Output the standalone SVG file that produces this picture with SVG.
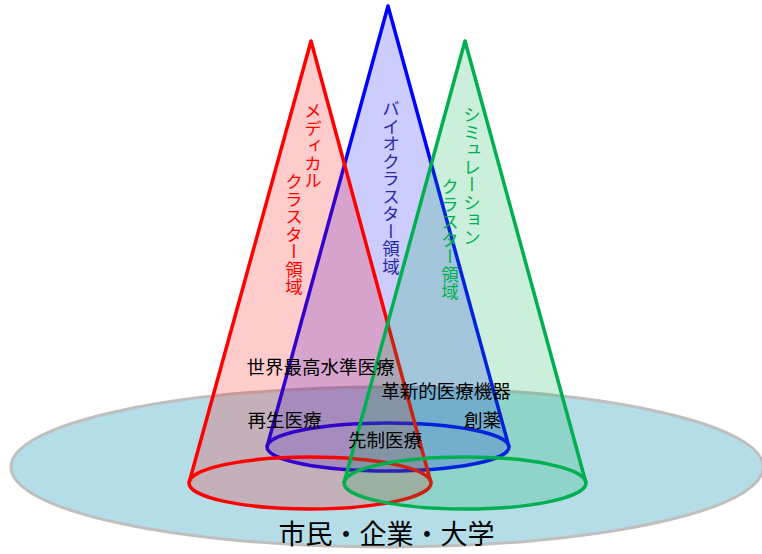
<svg xmlns="http://www.w3.org/2000/svg" width="762" height="554" viewBox="0 0 762 554">
<style>
.lbl{font-family:"Noto Sans CJK JP","Noto Sans",sans-serif;font-size:18.5px;fill:#000}
.big{font-size:27px}
.vt{font-family:"Noto Sans CJK JP","Noto Sans",sans-serif;font-size:17.5px;writing-mode:tb;}
.cone{stroke-width:3.5;stroke-linejoin:round}
</style>
<rect width="762" height="554" fill="#ffffff"/>
<g id="base">
<ellipse cx="387" cy="467" rx="376" ry="80" fill="#b4dde7" stroke="#bfbfbf" stroke-width="3"/>
</g>
<g id="cone-bio">
<path d="M267,447 L388,6 L509,447 A121,24 0 0 1 267,447 Z" fill="#0000ff" fill-opacity="0.2" stroke="none"/>
<path d="M267,447 L388,6 L509,447" fill="none" stroke="#0000ff" class="cone"/>
<ellipse cx="388" cy="447" rx="121" ry="24" fill="none" stroke="#0000ff" class="cone"/>
</g>
<g id="cone-medical">
<path d="M189,483 L311,41 L431,483 A121,26 0 0 1 189,483 Z" fill="#ff0000" fill-opacity="0.2" stroke="none"/>
<path d="M189,483 L311,41 L431,483" fill="none" stroke="#ff0000" class="cone"/>
<ellipse cx="310" cy="483" rx="121" ry="26" fill="none" stroke="#ff0000" class="cone"/>
</g>
<g id="cone-sim">
<path d="M344,483 L465,41 L586,483 A121,26 0 0 1 344,483 Z" fill="#00b050" fill-opacity="0.2" stroke="none"/>
<path d="M344,483 L465,41 L586,483" fill="none" stroke="#00b050" class="cone"/>
<ellipse cx="465" cy="483" rx="121" ry="26" fill="none" stroke="#00b050" class="cone"/>
</g>
<g id="cone-labels">
<text class="vt" x="313" y="102" fill="#ff0000">メディカル</text>
<text class="vt" x="294" y="173" fill="#ff0000">クラスター領域</text>
<text class="vt" x="391" y="100" fill="#2a2aa0">バイオクラスター領域</text>
<text class="vt" x="472" y="106" fill="#00b050">シミュレーション</text>
<text class="vt" x="450" y="178" fill="#00b050">クラスター領域</text>
</g>
<g id="labels">
<text class="lbl" x="320.5" y="374" text-anchor="middle">世界最高水準医療</text>
<text class="lbl" x="446" y="398" text-anchor="middle">革新的医療機器</text>
<text class="lbl" x="284.5" y="427" text-anchor="middle">再生医療</text>
<text class="lbl" x="482.5" y="427" text-anchor="middle">創薬</text>
<text class="lbl" x="385" y="447" text-anchor="middle">先制医療</text>
<text class="lbl big" x="386.5" y="544" text-anchor="middle">市民・企業・大学</text>
</g>
</svg>
